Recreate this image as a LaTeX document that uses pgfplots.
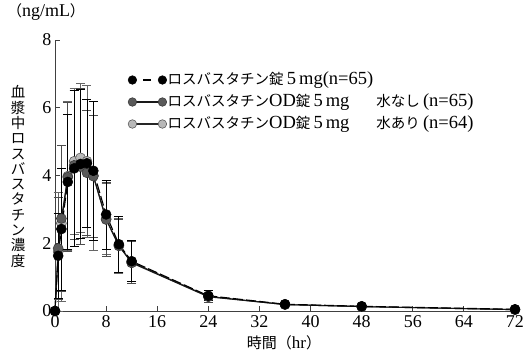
\documentclass[border=0pt]{standalone}
\usepackage{pgfplots}
\pgfplotsset{compat=1.18}
\usepackage{fontspec}
\setmainfont{Liberation Serif}
\newfontfamily\cjk{Noto Sans CJK JP}
\definecolor{dg}{HTML}{5A5A5A}
\definecolor{lg}{HTML}{B8B8B8}
\pgfplotstableread{
t y e
0 0 0
0.5 1.63 1.25
1 2.42 1.8
2 3.81 2.0
3 4.21 2.3
4 4.34 2.2
5 4.36 1.9
6 4.14 2.05
8 2.85 1.02
10 1.97 0.82
12 1.47 0.60
24 0.45 0.15
36 0.20 0.05
48 0.14 0.04
72 0.05 0.02
}\tabA
\pgfplotstableread{
t y e
0 0 0
0.5 1.85 1.5
1 2.73 2.15
2 3.95 2.2
3 4.30 2.2
4 4.26 2.3
5 4.08 1.85
6 3.98 1.80
8 2.70 1.10
10 1.93 0.78
12 1.42 0.62
24 0.42 0.18
36 0.19 0.06
48 0.13 0.04
72 0.04 0.02
}\tabB
\pgfplotstableread{
t y e
0 0 0
0.5 1.75 1.75
1 2.59 2.30
2 3.98 2.20
3 4.42 2.15
4 4.52 2.20
5 4.42 2.25
6 4.00 2.20
8 2.72 1.05
10 1.92 0.80
12 1.44 0.62
24 0.43 0.17
36 0.19 0.05
48 0.13 0.04
72 0.04 0.02
}\tabC
\newcommand{\lat}{\rmfamily\fontsize{18.5}{18.5}\selectfont}
\begin{document}
\begin{tikzpicture}
\begin{axis}[
  at={(55pt,48pt)}, anchor=south west, scale only axis,
  width=460pt, height=271pt,
  xmin=0, xmax=72, ymin=0, ymax=8,
  axis lines*=left, axis line style={-, black!75, line width=0.8pt},
  xtick={0,8,...,72}, ytick={0,2,...,8},
  tick align=inside, major tick length=5pt,
  tick style={black!75, line width=0.8pt},
  /pgf/number format/assume math mode=true,
  every tick label/.append style={font=\rmfamily\fontsize{18}{18}\selectfont},
  xticklabel style={yshift=-1pt},
  clip=false,
  reverse legend,
  legend cell align=left,
  legend style={draw=none, fill=none, at={(rel axis cs:0.152,0.89)}, anchor=north west,
    row sep=6pt, font=\cjk\fontsize{14.5}{15}\selectfont,
    nodes={text height=11pt, text depth=3pt, inner sep=1pt}},
  legend image code/.code={\draw[mark repeat=2, mark phase=1, #1, mark size=4.3pt]
     plot coordinates {(0pt,0pt) (15pt,0pt) (30pt,0pt)};},
  every axis plot/.append style={line width=1.1pt},
]
\addplot[draw=black!85, mark=*, mark size=5pt, mark options={solid, fill=lg, draw=black!70, line width=0.5pt},
  error bars/.cd, y dir=both, y explicit, error mark=|,
  error bar style={black!60, line width=0.8pt, solid},
  error mark options={black!60, mark size=4.5pt, line width=0.8pt, solid}]
  table[x=t, y=y, y error=e]{\tabC};
\addlegendentry{ロスバスタチン{\lat OD}錠{\lat\,5\,mg}\hspace{27pt}水あり{\lat\,(n=64)}}
\addplot[draw=black!90, mark=*, mark size=5pt, mark options={solid, fill=dg, draw=black!80, line width=0.5pt},
  error bars/.cd, y dir=both, y explicit, error mark=|,
  error bar style={black!70, line width=0.8pt, solid},
  error mark options={black!70, mark size=4.5pt, line width=0.8pt, solid}]
  table[x=t, y=y, y error=e]{\tabB};
\addlegendentry{ロスバスタチン{\lat OD}錠{\lat\,5\,mg}\hspace{27pt}水なし{\lat\,(n=65)}}
\addplot[draw=black, dash pattern=on 10pt off 3pt, mark=*, mark size=5pt, mark options={solid, fill=black, draw=black, line width=0.5pt},
  legend image post style={dash pattern=on 0pt off 11pt on 8pt off 11pt},
  error bars/.cd, y dir=both, y explicit, error mark=|,
  error bar style={black, line width=0.8pt, solid},
  error mark options={black, mark size=4.5pt, line width=0.8pt, solid}]
  table[x=t, y=y, y error=e]{\tabA};
\addlegendentry{ロスバスタチン錠{\lat\,5\,mg(n=65)}}
\end{axis}
\node[font=\rmfamily\fontsize{18}{18}\selectfont] at (46pt,347pt) {{\cjk\fontsize{15}{15}\selectfont （}ng/mL{\cjk\fontsize{15}{15}\selectfont ）}};
\node[font=\cjk\fontsize{14.5}{15.3}\selectfont, align=center] at (18pt,182.5pt)
  {血\\漿\\中\\ロ\\ス\\バ\\ス\\タ\\チ\\ン\\濃\\度};
\node[font=\rmfamily\fontsize{17}{17}\selectfont] at (284pt,16pt) {{\cjk\fontsize{15}{15}\selectfont 時間（}hr{\cjk\fontsize{15}{15}\selectfont ）}};
\pgfresetboundingbox
\path[use as bounding box] (0pt,0pt) rectangle (523pt,359pt);
\end{tikzpicture}
\end{document}
